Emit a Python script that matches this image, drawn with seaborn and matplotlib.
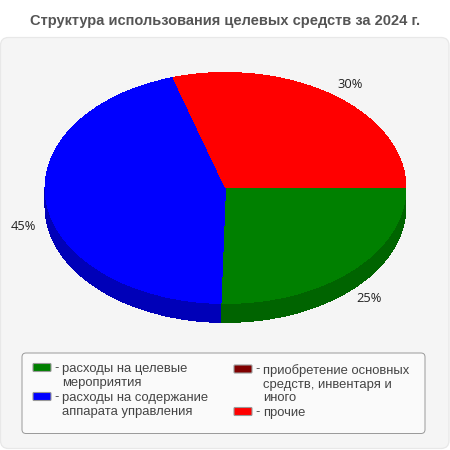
import matplotlib
matplotlib.use('Agg')
import matplotlib.pyplot as plt
from matplotlib.patches import FancyBboxPatch
import seaborn as sns

title = 'Структура использования целевых средств за 2024 г.'
categories = ['расходы на целевые\nмероприятия',
              'расходы на содержание\nаппарата управления',
              'приобретение основных\nсредств, инвентаря и\nиного',
              'прочие']
# shares as they look on the picture, labels are rounded
values = [25.4, 44.9, 0.0, 29.7]
pct_labels = ['25%', '45%', '', '30%']
top_colors = ['#008000', '#0000ff', '#800000', '#ff0000']
side_colors = ['#006400', '#0000b8', '#600000', '#c00000']

sns.set_theme(style='white')
plt.rcParams['font.family'] = ['Liberation Sans', 'DejaVu Sans']

W, H = 450, 450
fig = plt.figure(figsize=(W / 100, H / 100), dpi=100, facecolor='white')

# фон и легенда в пикселях
bg = fig.add_axes([0, 0, 1, 1])
bg.set_xlim(0, W)
bg.set_ylim(H, 0)
bg.axis('off')

bg.text(225, 20.5, title, ha='center', va='center', fontsize=10.5,
        fontweight='bold', color='#555555')

bg.add_patch(FancyBboxPatch((0.5, 37.5), 448.5, 411, boxstyle='round,pad=0,rounding_size=8',
                            fc='#f5f5f5', ec='#e8e8e8', lw=0.9, clip_on=False))
bg.add_patch(FancyBboxPatch((26, 357), 395, 72.5, boxstyle='round,pad=4',
                            fc='#fafafa', ec='#999999', lw=0.7))

# 2 columns of the legend
legend_pos = [(33, 363.5), (33, 392.5), (234, 365), (234, 407.5)]
for name, c, (lx, ly) in zip(categories, top_colors, legend_pos):
    bg.add_patch(FancyBboxPatch((lx + 1, ly + 1), 16, 6, boxstyle='round,pad=1',
                                fc=c, ec='#999999', lw=0.8))
    bg.text(lx + 21, ly + 4.5, '-', ha='left', va='center', fontsize=9.4, color='#444444')
    bg.text(lx + 29, ly - 0.5, name, ha='left', va='top', fontsize=9.4, color='#444444',
            linespacing=1.17)

# круг: центр 226,188 полуоси 180 и 115.5, толщина 19
cx, cy, rx, ry, depth = 225.5, 188, 180.5, 115.5, 19
ax = fig.add_axes([(cx - rx) / W, 1 - (cy + ry + depth) / H, 2 * rx / W, (2 * ry + depth) / H])
ax.patch.set_alpha(0)

for d in range(depth, 0, -1):
    wedges, _ = ax.pie(values, colors=side_colors, startangle=0, counterclock=False,
                       radius=1, center=(0, -d / ry))
    for w in wedges:
        w.set_antialiased(False)
        w.set_linewidth(0)

wedges, _ = ax.pie(values, colors=top_colors, startangle=0, counterclock=False, radius=1)
for w in wedges:
    w.set_antialiased(False)
    w.set_linewidth(0)

ax.set_aspect('auto')
ax.set_xlim(-1, 1)
ax.set_ylim(-1 - depth / ry, 1)
ax.axis('off')

label_pos = [(369, 298), (23, 227), (350, 85)]
for txt, (tx, ty) in zip([p for p in pct_labels if p], label_pos):
    bg.text(tx, ty, txt, ha='center', va='center', fontsize=9.3, color='#222222',
            family=['Open Sans', 'DejaVu Sans'])

fig.savefig('out.png', dpi=100)
